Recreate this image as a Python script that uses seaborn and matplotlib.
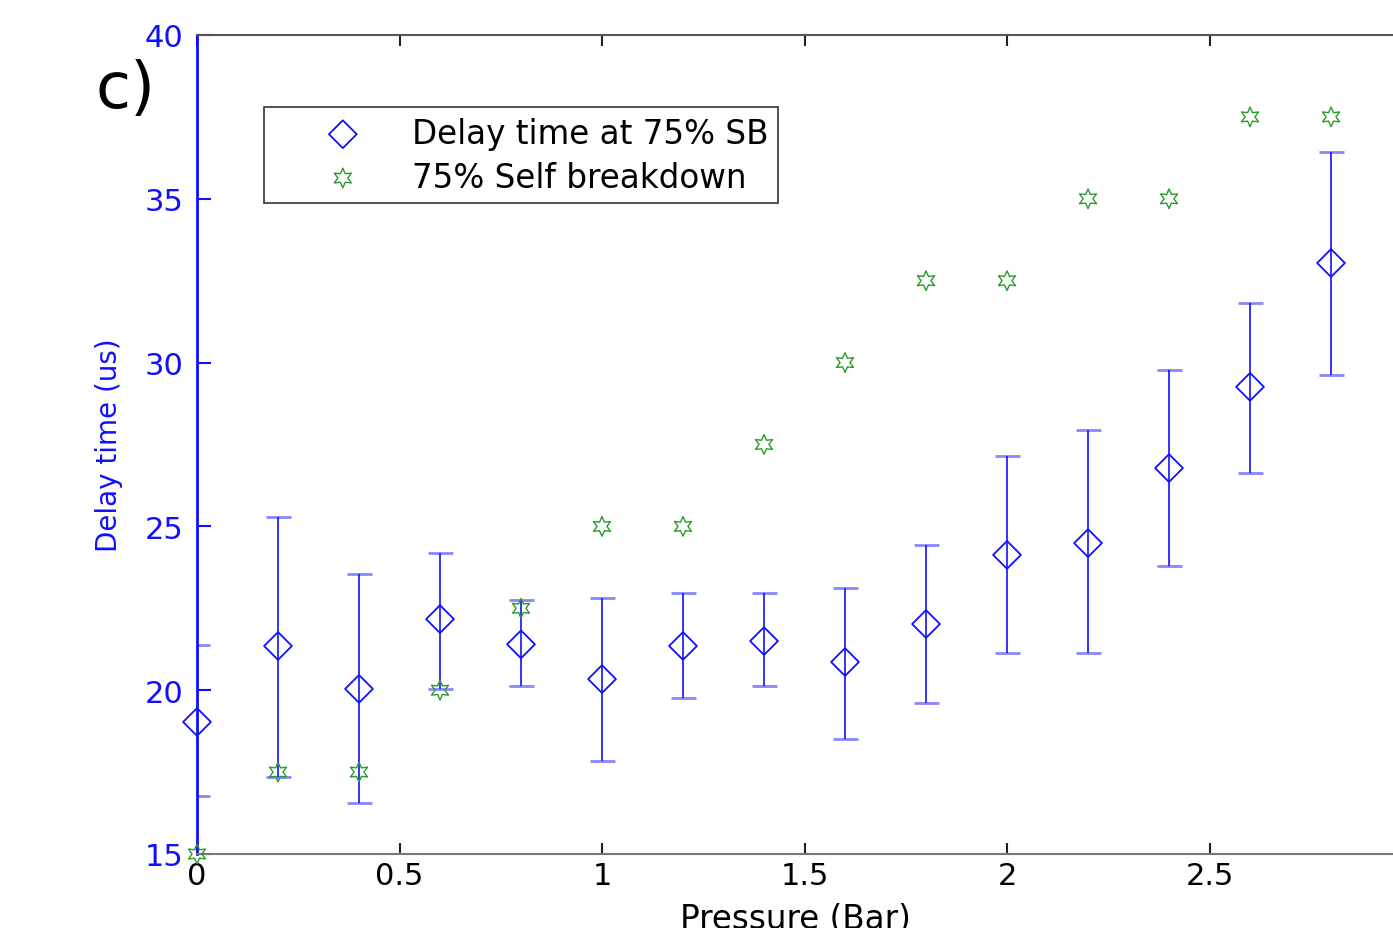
import matplotlib
matplotlib.use("Agg")
import matplotlib.pyplot as plt
import seaborn as sns
import numpy as np
import pandas as pd

pressure = [0.0, 0.2, 0.4, 0.6, 0.8, 1.0, 1.2, 1.4, 1.6, 1.8, 2.0, 2.2, 2.4, 2.6, 2.8]
delay_mean = [19.03, 21.35, 20.04, 22.17, 21.40, 20.34, 21.35, 21.50, 20.86, 22.02, 24.13, 24.49, 26.78, 29.26, 33.04]
delay_upper = [21.38, 25.30, 23.55, 24.20, 22.75, 22.80, 22.97, 22.97, 23.12, 24.43, 27.15, 27.94, 29.77, 31.82, 36.43]
delay_lower = [16.77, 17.35, 16.55, 20.04, 20.13, 17.84, 19.76, 20.13, 18.51, 19.61, 21.14, 21.14, 23.79, 26.63, 29.62]
self_breakdown = [15.0, 17.5, 17.5, 20.0, 22.5, 25.0, 25.0, 27.5, 30.0, 32.5, 32.5, 35.0, 35.0, 37.5, 37.5]

label_delay = "Delay time at 75% SB"
label_sb = "75% Self breakdown"

sns.set_theme(style="white")
plt.rcParams['font.family'] = ['DejaVu Sans']
plt.rcParams['text.color'] = 'black'

df = pd.DataFrame({"p": pressure, "d": delay_mean, "lo": delay_lower,
                   "hi": delay_upper, "sb": self_breakdown})

fig = plt.figure(figsize=(13.93, 9.29), dpi=100)
ax = fig.add_axes([197/1393, 1-855/929, 1-197/1393, (855-36)/929])

blue = "#1010ff"
green = "#2a9a2a"

yerr = [np.array(delay_mean) - np.array(delay_lower), np.array(delay_upper) - np.array(delay_mean)]
eb = ax.errorbar(df["p"], df["d"], yerr=yerr, fmt="none", ecolor=blue, elinewidth=1.2,
                 capsize=9, capthick=2, zorder=2, clip_on=True)
for cl in eb[1]:
    cl.set_alpha(0.5)

sns.scatterplot(data=df, x="p", y="d", ax=ax, marker="D", s=200, facecolor="none",
                edgecolor=blue, linewidth=1.3, label=label_delay, zorder=3, clip_on=False)
sns.scatterplot(data=df, x="p", y="sb", ax=ax, marker=(6, 1, 0), s=200, facecolor="none",
                edgecolor=green, linewidth=1.0, label=label_sb, zorder=3, clip_on=False)

ax.set_xlim(0, 2.953)
ax.set_ylim(15, 40)
ax.set_xticks([0, 0.5, 1, 1.5, 2, 2.5])
ax.set_xticklabels(["0", "0.5", "1", "1.5", "2", "2.5"])
ax.set_yticks([15, 20, 25, 30, 35, 40])
ax.tick_params(axis="x", direction="in", length=8, width=1.5, color="#222222",
               labelsize=22, labelcolor="black", top=True, bottom=True, pad=5)
ax.tick_params(axis="y", direction="in", length=10, width=1.5, color=blue,
               labelsize=22, labelcolor=blue, left=True, pad=10)

ax.spines["right"].set_visible(False)
ax.spines["left"].set_color(blue)
ax.spines["left"].set_linewidth(2)
ax.spines["bottom"].set_color("#777777")
ax.spines["bottom"].set_linewidth(1.5)
ax.spines["top"].set_color("#555555")
ax.spines["top"].set_linewidth(1.5)

ax.set_xlabel("Pressure (Bar)", fontsize=23.5, color="black", labelpad=9)
ax.set_ylabel("Delay time (us)", fontsize=20, color=blue, labelpad=15)

leg = ax.legend(loc="upper left", bbox_to_anchor=((264-197)/1196, (855-108)/819),
                fontsize=23.5, frameon=True, fancybox=False, edgecolor="black",
                handlelength=4.23, handletextpad=0.0, borderpad=0.3, labelspacing=0.33,
                borderaxespad=0)
leg.get_frame().set_linewidth(1.2)
for t in leg.get_texts():
    t.set_color("black")

fig.text(95/1393, 1-90/929, "c)", fontsize=46, color="black", va="center", ha="left")

fig.savefig("out.png", dpi=100)
